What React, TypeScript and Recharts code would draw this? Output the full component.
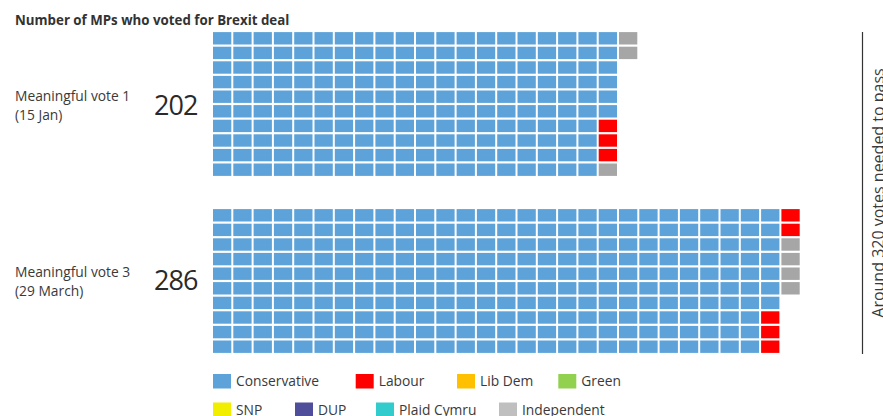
import React from "react";
import { ScatterChart, Scatter, XAxis, YAxis } from "recharts";

// ---------- data ----------
const parties = ["Conservative", "Labour", "Lib Dem", "Green", "SNP", "DUP", "Plaid Cymru", "Independent"];
const vote1Counts = [196, 3, 0, 0, 0, 0, 0, 3];
const vote3Counts = [277, 5, 0, 0, 0, 0, 0, 4];
const vote1Label = ["Meaningful vote 1", "(15 Jan)"];
const vote3Label = ["Meaningful vote 3", "(29 March)"];
const title = "Number of MPs who voted for Brexit deal";
const thresholdLabel = "Around 320 votes needed to pass";
const ROWS = 10;

// ---------- styles ----------
const cellColors: Record<string, string> = {
  Conservative: "#5DA3D9",
  Labour: "#FF0000",
  "Lib Dem": "#FFC000",
  Green: "#92D050",
  SNP: "#F2EE00",
  DUP: "#4E4E9B",
  "Plaid Cymru": "#33CCCC",
  Independent: "#A6A6A6",
};
const legendColors: Record<string, string> = { ...cellColors, Independent: "#BFBFBF" };
const FONT = "'Open Sans', 'Noto Sans', sans-serif";
const TEXT = "#3a3a3a";
const PITCH_X = 20.3;
const PITCH_Y = 14.6;
const CELL_W = 18.3;
const CELL_H = 12.4;
const COLS_DOMAIN = 30;
const GRID_LEFT = 213.3 - (PITCH_X - CELL_W) / 2;
const legendPos = [
  [213, 374], [355.7, 374], [457, 374], [558.3, 374],
  [213, 402.5], [295, 402.5], [376, 402.5], [499, 402.5],
];

type Cell = { x: number; y: number; party: string };

function buildCells(counts: number[]): Cell[] {
  const cells: Cell[] = [];
  let i = 0;
  parties.forEach((p, pi) => {
    for (let k = 0; k < counts[pi]; k++) {
      cells.push({ x: Math.floor(i / ROWS) + 0.5, y: (i % ROWS) + 0.5, party: p });
      i++;
    }
  });
  return cells;
}

const Square = (props: any) => {
  const { cx, cy, fill } = props;
  if (cx == null || cy == null) return null;
  return <rect x={cx - CELL_W / 2} y={cy - CELL_H / 2} width={CELL_W} height={CELL_H} fill={fill} />;
};

function Waffle({ counts, top }: { counts: number[]; top: number }) {
  const cells = buildCells(counts);
  const w = COLS_DOMAIN * PITCH_X;
  const h = ROWS * PITCH_Y;
  return (
    <div style={{ position: "absolute", left: GRID_LEFT, top, width: w, height: h }}>
      <ScatterChart width={w} height={h} margin={{ top: 0, right: 0, bottom: 0, left: 0 }}>
        <XAxis type="number" dataKey="x" domain={[0, COLS_DOMAIN]} hide allowDataOverflow />
        <YAxis type="number" dataKey="y" domain={[0, ROWS]} hide reversed width={0} allowDataOverflow />
        {parties.map((p) => (
          <Scatter
            key={p}
            name={p}
            data={cells.filter((c) => c.party === p)}
            fill={cellColors[p]}
            shape={<Square />}
            isAnimationActive={false}
          />
        ))}
      </ScatterChart>
    </div>
  );
}

export default function App() {
  return (
    <div style={{ position: "absolute", left: 0, top: 0, width: 883, height: 416, background: "#fff", overflow: "hidden", fontFamily: FONT }}>
      <svg width={883} height={416} style={{ position: "absolute", left: 0, top: 0 }}>
        <text x={15} y={25} fontSize={13.3} fontWeight={700} fill="#333" fontFamily={FONT}>{title}</text>
        <text x={15} y={101} fontSize={13.8} fill={TEXT} fontFamily={FONT}>{vote1Label[0]}</text>
        <text x={15} y={120} fontSize={13.8} fill={TEXT} fontFamily={FONT}>{vote1Label[1]}</text>
        <text x={154} y={115} fontSize={27} fill="#2a2a2a" fontFamily={FONT} letterSpacing={-1}>
          {vote1Counts.reduce((a, b) => a + b, 0)}
        </text>
        <text x={15} y={277} fontSize={13.8} fill={TEXT} fontFamily={FONT}>{vote3Label[0]}</text>
        <text x={15} y={296} fontSize={13.8} fill={TEXT} fontFamily={FONT}>{vote3Label[1]}</text>
        <text x={154} y={290} fontSize={27} fill="#2a2a2a" fontFamily={FONT} letterSpacing={-1}>
          {vote3Counts.reduce((a, b) => a + b, 0)}
        </text>
        <line x1={862.5} y1={32} x2={862.5} y2={354} stroke="#333" strokeWidth={1.2} />
        <text
          x={0}
          y={0}
          transform="translate(884,193) rotate(-90)"
          textAnchor="middle"
          fontSize={16}
          fill={TEXT}
          fontFamily={FONT}
        >
          {thresholdLabel}
        </text>
        {parties.map((p, i) => (
          <g key={p}>
            <rect x={legendPos[i][0]} y={legendPos[i][1]} width={18} height={14.5} fill={legendColors[p]} />
            <text x={legendPos[i][0] + 23} y={legendPos[i][1] + 12} fontSize={13.8} fill={TEXT} fontFamily={FONT}>{p}</text>
          </g>
        ))}
      </svg>
      <Waffle counts={vote1Counts} top={32.3 - (PITCH_Y - CELL_H) / 2} />
      <Waffle counts={vote3Counts} top={209 - (PITCH_Y - CELL_H) / 2} />
    </div>
  );
}
